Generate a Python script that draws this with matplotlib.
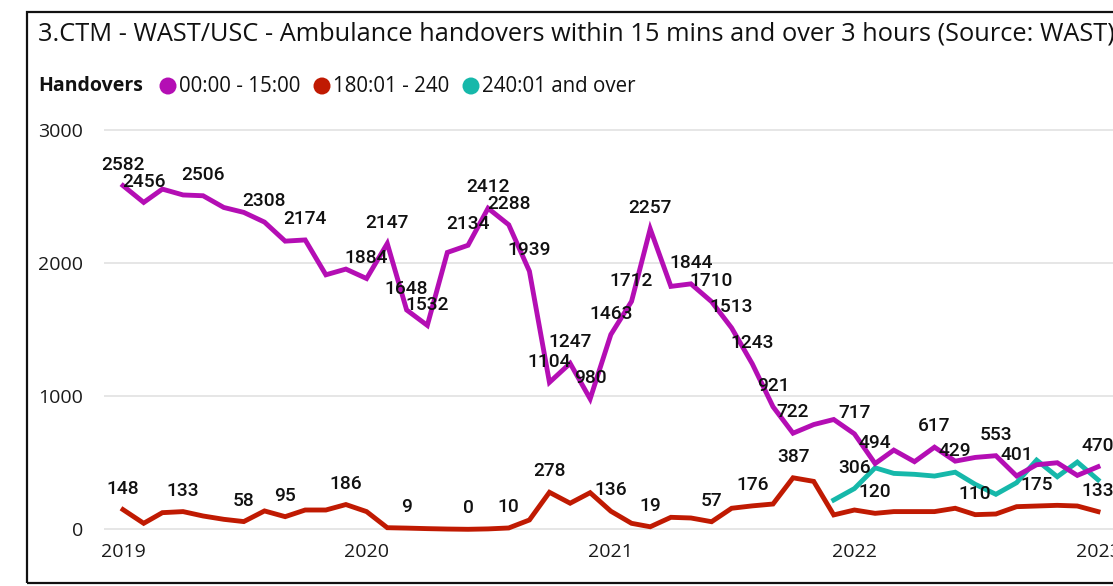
import matplotlib
matplotlib.use("Agg")
import matplotlib.pyplot as plt
import matplotlib.dates as mdates
import matplotlib.patches as mpatches
import pandas as pd
import numpy as np

# ---------------- data ----------------
months = pd.date_range("2019-01-01", periods=49, freq="MS")

within_15 = [2582, 2456, 2556, 2512, 2506, 2418, 2381, 2308, 2165, 2174,
             1912, 1955, 1884, 2147, 1648, 1532, 2080, 2134, 2412, 2288,
             1939, 1104, 1247, 980, 1463, 1712, 2257, 1825, 1844, 1710,
             1513, 1243, 921, 722, 787, 825, 717, 494, 595, 508,
             617, 512, 540, 553, 401, 485, 500, 405, 470]

over_180 = [148, 45, 125, 133, 100, 75, 58, 138, 95, 145,
            145, 186, 133, 12, 9, 5, 2, 0, 3, 10,
            70, 278, 196, 275, 136, 45, 19, 90, 85, 57,
            158, 176, 190, 387, 360, 108, 145, 120, 133, 133,
            133, 158, 110, 115, 170, 175, 180, 175, 133]

over_240_start = 35
over_240 = [220, 306, 462, 420, 413, 400, 429, 338, 263, 350, 520, 395, 505, 372]

labels_15 = [0, 1, 4, 7, 9, 13, 12, 14, 15, 17, 18, 19, 20, 21, 22, 23, 24, 25,
             26, 28, 29, 30, 31, 32, 33, 36, 37, 40, 43, 44, 48]
labels_180 = [0, 3, 6, 8, 11, 14, 17, 19, 21, 24, 26, 29, 31, 33, 37, 42, 45, 48]
labels_240 = [1, 6]

series_names = ["00:00 - 15:00", "180:01 - 240", "240:01 and over"]
colors = ["#B40EB4", "#C01A02", "#16B8AA"]
year_ticks = ["2019", "2020", "2021", "2022", "2023"]
y_ticks = [0, 1000, 2000, 3000]

title = "3.CTM - WAST/USC - Ambulance handovers within 15 mins and over 3 hours (Source: WAST)"

# ---------------- figure ----------------
W, H = 1113, 586
fig = plt.figure(figsize=(W / 100, H / 100), dpi=100)

def fx(px):
    return px / W

def fy(py):
    return 1 - py / H

ax_left, ax_right, ax_top, ax_bottom = 104, 1125, 116.7, 536
ax = fig.add_axes([fx(ax_left), fy(ax_bottom), (ax_right - ax_left) / W, (ax_bottom - ax_top) / H])

x0 = pd.Timestamp("2019-01-01")
x1 = pd.Timestamp("2023-01-01")
ppd = (1098 - 123) / (x1 - x0).days
xmin = x0 - pd.Timedelta(days=(123 - ax_left) / ppd)
xmax = x0 + pd.Timedelta(days=(ax_right - 123) / ppd)
ax.set_xlim(xmin, xmax)
ypp = 3000 / (529.3 - 130)
ax.set_ylim(-(ax_bottom - 529.3) * ypp, 3000 + (130 - ax_top) * ypp)

for y in y_ticks:
    ax.axhline(y, color="#E4E4E4", lw=1.3, zorder=0)

lw = 3.5
ax.plot(months, over_180, color=colors[1], lw=lw, solid_joinstyle="miter", zorder=3)
ax.plot(months[over_240_start:], over_240, color=colors[2], lw=lw, solid_joinstyle="miter", zorder=4)
ax.plot(months, within_15, color=colors[0], lw=lw, solid_joinstyle="miter", zorder=5)

lab_font = dict(family="Roboto", fontsize=13.8, fontweight="medium", color="#111111")

def add_labels(xs, ys, idxs):
    for i in idxs:
        ax.annotate(str(ys[i]), (xs[i], ys[i]), xytext=(0, 15), textcoords="offset points",
                    ha="center", va="center", zorder=6, annotation_clip=False, **lab_font)

add_labels(months, within_15, labels_15)
add_labels(months, over_180, labels_180)
add_labels(months[over_240_start:], over_240, labels_240)

for s in ax.spines.values():
    s.set_visible(False)
ax.set_facecolor("none")

ax.set_yticks(y_ticks)
ax.set_yticklabels([str(v) for v in y_ticks])
ax.set_xticks([pd.Timestamp(f"{y}-01-01") for y in year_ticks])
ax.set_xticklabels(year_ticks)
ax.tick_params(axis="both", length=0, labelsize=14, colors="#1a1a1a")
ax.tick_params(axis="y", pad=15)
ax.tick_params(axis="x", pad=5)
for t in ax.get_xticklabels() + ax.get_yticklabels():
    t.set_family("Open Sans")

# frame
fig.patches.append(mpatches.Rectangle((fx(27), fy(583)), 1.2, fy(12) - fy(583),
                                      transform=fig.transFigure, fill=False,
                                      edgecolor="#111111", lw=1.6, clip_on=False))

# title
fig.text(fx(38), fy(34), title, family="Open Sans", fontsize=18.3, color="#111111",
         ha="left", va="center")

# legend
ly = fy(86)
fig.text(fx(38), ly, "Handovers", family="Open Sans", fontweight="bold", fontsize=14,
         color="#111111", ha="left", va="center")
circle_x = [168, 322, 471]
for cx, name, col in zip(circle_x, series_names, colors):
    fig.patches.append(mpatches.Ellipse((fx(cx), ly), 17 / W, 17 / H, transform=fig.transFigure,
                                        facecolor=col, edgecolor="none"))
    fig.text(fx(cx + 11), ly, name, family="Open Sans", fontsize=14.8, color="#111111",
             ha="left", va="center")

fig.savefig("out.png", dpi=100)
